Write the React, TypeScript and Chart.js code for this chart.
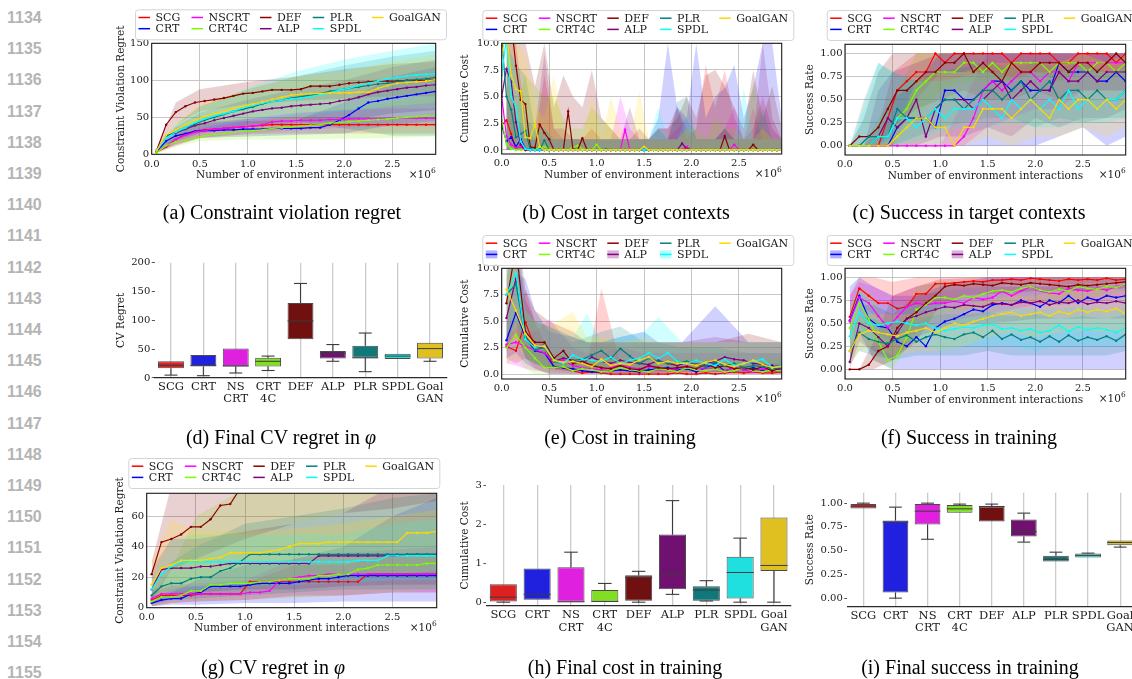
import React, { useEffect, useRef } from "react";
import { Chart, registerables } from "chart.js";

Chart.register(...registerables);

// ---------- shared names, colours, ticks ----------
const METHODS = ["SCG", "CRT", "NSCRT", "CRT4C", "DEF", "ALP", "PLR", "SPDL", "GoalGAN"];
const LINE_COLORS = ["#ff0000", "#0000ff", "#ff00ff", "#7cfc00", "#8b0000", "#800080", "#008080", "#00ffff", "#ffd700"];
const BOX_COLORS = ["#df2020", "#2020df", "#df20df", "#80df20", "#701010", "#701070", "#107878", "#20dfdf", "#dfc020"];
const BOX_LABELS = [["SCG"], ["CRT"], ["NS", "CRT"], ["CRT", "4C"], ["DEF"], ["ALP"], ["PLR"], ["SPDL"], ["Goal", "GAN"]];

// environment interactions (x 10^6)
const STEPS = [0.05, 0.15, 0.25, 0.35, 0.45, 0.55, 0.65, 0.75, 0.85, 0.95, 1.05, 1.15, 1.25, 1.35, 1.45, 1.55, 1.65, 1.75, 1.85, 1.95, 2.05, 2.15, 2.25, 2.35, 2.45, 2.55, 2.65, 2.75, 2.85, 2.95];
const STEPS_FINE = [0, 0.05, 0.1, 0.15, 0.2, 0.25, 0.3, 0.35, 0.4, 0.45, 0.5, 0.55, 0.6, 0.65, 0.7, 0.75, 0.8, 0.85, 0.9, 0.95, 1.0, 1.05, 1.1, 1.15, 1.2, 1.25, 1.3, 1.35, 1.4, 1.45, 1.5, 1.55, 1.6, 1.65, 1.7, 1.75, 1.8, 1.85, 1.9, 1.95, 2.0, 2.05, 2.1, 2.15, 2.2, 2.25, 2.3, 2.35, 2.4, 2.45, 2.5, 2.55, 2.6, 2.65, 2.7, 2.75, 2.8, 2.85, 2.9, 2.95];
const X_TICKS = [0, 0.5, 1.0, 1.5, 2.0, 2.5];
const REGRET_TICKS = [0, 50, 100, 150];
const COST_TICKS = [0, 2.5, 5, 7.5, 10];
const RATE_TICKS = [0, 0.25, 0.5, 0.75, 1];
const PHI_TICKS = [0, 20, 40, 60];
const FINAL_REGRET_TICKS = [0, 50, 100, 150, 200];
const FINAL_COST_TICKS = [0, 1, 2, 3];
const FINAL_RATE_TICKS = [0, 0.25, 0.5, 0.75, 1];
const LINE_NUMBERS = [1134, 1135, 1136, 1137, 1138, 1139, 1140, 1141, 1142, 1143, 1144, 1145, 1146, 1147, 1148, 1149, 1150, 1151, 1152, 1153, 1154, 1155];

// ---------- (a) constraint violation regret, target contexts ----------
const REGRET_MEAN = [
  [3, 10, 20, 27, 31, 33, 34, 35, 36, 37, 38, 39, 40, 40, 40, 40, 40, 40, 40, 40, 40, 40, 40, 40, 40, 40, 40, 40, 40, 40],
  [4, 18, 25, 28, 31, 32, 32, 33, 33, 34, 34, 34, 35, 35, 35, 35, 36, 36, 40, 46, 53, 62, 70, 72, 75, 77, 79, 81, 83, 85],
  [3, 11, 20, 26, 30, 32, 34, 35, 36, 37, 38, 40, 44, 45, 45, 46, 46, 46, 47, 47, 48, 48, 48, 48, 49, 49, 49, 49, 49, 49],
  [2, 12, 17, 19, 22, 25, 27, 28, 30, 31, 32, 33, 35, 36, 37, 38, 39, 40, 42, 43, 44, 45, 46, 47, 48, 49, 50, 51, 52, 52],
  [5, 40, 57, 65, 70, 72, 74, 76, 79, 82, 83, 85, 87, 87, 87, 88, 92, 92, 92, 94, 96, 97, 98, 99, 99, 99, 100, 100, 100, 101],
  [5, 25, 29, 34, 39, 42, 46, 49, 52, 55, 58, 60, 62, 63, 65, 66, 67, 68, 69, 72, 74, 77, 81, 84, 86, 88, 90, 91, 93, 94],
  [5, 24, 30, 35, 41, 46, 50, 54, 58, 61, 64, 68, 71, 73, 76, 78, 80, 82, 85, 87, 89, 91, 93, 95, 96, 98, 100, 101, 102, 104],
  [5, 22, 30, 36, 43, 48, 52, 55, 58, 63, 66, 69, 71, 73, 75, 76, 78, 80, 83, 87, 89, 93, 96, 99, 102, 104, 106, 107, 108, 109],
  [5, 26, 33, 40, 46, 51, 55, 58, 62, 65, 68, 71, 74, 77, 80, 81, 82, 82, 83, 83, 83, 84, 84, 89, 93, 96, 97, 98, 99, 101],
];
const REGRET_BAND_X = [0.05, 0.25, 0.5, 1.0, 1.5, 2.0, 2.5, 2.95];
const REGRET_LOW = [
  [2, 12, 22, 27, 28, 28, 28, 28],
  [2, 14, 22, 24, 26, 28, 40, 45],
  [2, 12, 22, 28, 32, 36, 38, 38],
  [1, 10, 18, 20, 20, 21, 22, 24],
  [3, 40, 58, 68, 72, 75, 78, 78],
  [3, 18, 28, 38, 42, 45, 55, 60],
  [3, 20, 30, 40, 45, 35, 25, 25],
  [3, 22, 34, 45, 52, 58, 65, 70],
  [3, 24, 36, 48, 55, 60, 65, 70],
];
const REGRET_HIGH = [
  [5, 27, 42, 48, 50, 50, 50, 50],
  [6, 36, 42, 45, 46, 70, 105, 118],
  [5, 28, 42, 48, 56, 60, 62, 62],
  [3, 24, 30, 42, 54, 62, 70, 78],
  [7, 70, 88, 98, 105, 115, 122, 125],
  [7, 38, 56, 74, 88, 100, 118, 128],
  [7, 40, 65, 88, 105, 120, 132, 140],
  [7, 40, 62, 90, 112, 128, 140, 150],
  [7, 42, 68, 88, 105, 112, 125, 135],
];

// ---------- (b) cumulative cost, target contexts ----------
const COST_TARGET_MEAN = [
  [2.3, 2.8, 1.5, 0.1, 0.4, 0, 0, 0, 0, 0, 0, 0, 0, 0, 0, 0, 0, 0, 0, 0, 0, 0, 0, 0, 0, 0, 0, 0, 0, 0, 0, 0, 0, 0, 0, 0, 0, 0, 0, 0, 0, 0, 0, 0, 0, 0, 0, 0, 0, 0, 0, 0, 0, 0, 0, 0, 0, 0, 0, 0],
  [2.3, 0.8, 1.2, 0.3, 1.0, 0.1, 0, 0, 0, 0, 0, 0, 0, 0, 0, 0, 0, 0, 0, 0, 0, 0, 0, 0, 0, 0, 0, 0, 0, 0, 0, 0, 0, 0, 0, 0, 0, 0, 0, 0, 0, 0, 0, 0, 0, 0, 0, 0, 0, 0, 0, 0, 0, 0, 0, 0, 0, 0, 0, 0],
  [5.0, 1.3, 0.5, 0.2, 0.3, 0, 0, 0, 0, 0, 0, 0, 0, 0, 0, 0, 0, 0, 0, 0, 0, 0, 0, 0, 0, 0, 1.9, 0, 0, 0, 0, 0, 0, 0, 0, 0, 0, 0, 0, 0.3, 0, 0, 0, 0, 0, 0, 0, 0, 0, 0.5, 0, 0, 0, 0, 0, 0, 0, 0, 0, 0],
  [2.8, 0.6, 0.1, 0, 0, 0, 0, 0, 0.3, 0.3, 0.1, 0, 0, 0, 0, 0.2, 0.4, 0.1, 0, 0, 0.5, 0, 0, 0, 0, 0, 0, 0, 0, 0, 0, 0, 0, 0, 0, 0, 0, 0, 0, 0, 0, 0, 0, 0, 0, 0, 0, 0, 0, 0, 0, 0, 0, 0, 0, 0, 0, 0, 0, 0],
  [10.5, 12, 12, 7.9, 4.7, 4.3, 0.3, 0.2, 2.4, 1.6, 1.0, 0, 0, 0, 3.6, 0.1, 0, 1.1, 0, 0, 0, 0, 0, 0, 0, 0, 0, 0, 0, 0, 0, 0, 0, 0, 0, 0, 0, 0, 0, 0, 0, 0, 0, 0, 0, 0, 0, 1.3, 0, 0, 0, 0, 0, 0.5, 0, 0, 0, 0, 0, 0],
  [5.0, 7.6, 6.4, 2.6, 0.5, 0, 0, 0, 0, 0, 0, 0, 0, 0, 0, 0, 0, 0, 0, 0, 0, 0, 0, 0, 0, 0, 0, 0, 0, 0, 0, 0, 0, 0, 0, 0, 0, 0, 0.6, 0.1, 0, 0, 0, 0, 0, 0, 0, 0, 0, 0, 0, 0, 0, 0, 0, 0, 0, 0, 0, 0],
  [10.5, 5.0, 3.8, 1.2, 1.5, 1.8, 0.1, 0, 0, 0.9, 0, 0, 0, 0, 0, 0, 0, 0, 0, 0, 0, 0, 0.1, 0, 0, 0, 0, 0, 0, 0, 0, 0, 0, 0, 0, 0, 0, 0, 0, 0, 0, 0, 0, 0, 0, 0, 0, 0, 0, 0, 0, 0, 0, 0, 0, 0, 0, 0, 0, 0],
  [7.0, 10.5, 5.0, 4.0, 0.8, 0.1, 0, 0, 0, 0, 0, 0, 0, 0, 0, 0, 0, 0, 0, 0, 0, 0, 0, 0, 0, 0, 0, 0, 0, 0, 0, 0, 0, 0, 0, 0, 0, 0, 0, 0, 0, 0, 0, 0, 0, 0, 0, 0, 0, 0, 0, 0, 0, 0, 0, 0, 0, 0, 0, 0],
  [9.0, 11, 7.0, 5.7, 5.5, 1.2, 1.1, 2.4, 0.3, 0, 0, 0, 0, 0, 0, 0, 0, 0, 0, 0, 0, 0, 0, 0, 0, 0, 0, 0, 0, 0, 0.3, 0, 0, 0, 0, 0, 0, 0, 0, 0, 0, 0, 0, 0, 0, 0, 0, 0, 0, 0, 0, 0, 0, 0, 0, 0, 0, 0, 0, 0],
];
const COST_TARGET_HIGH = [
  [5, 3, 1, 1, 7, 2, 1, 1, 1, 2, 1, 1, 1, 1, 1, 1, 2, 2, 4, 1, 2, 8, 4, 7.5, 3, 1, 2, 5, 2, 1],
  [5, 3, 2, 1, 1, 1, 1, 1, 1, 1, 1, 1, 1, 1, 1, 1, 3, 10, 4, 3, 10, 3, 5, 5.8, 8, 3, 5.8, 10, 10, 3],
  [8, 3, 1, 1, 2, 1, 1, 1, 1, 1, 1, 1, 5, 2, 1, 1, 1, 1, 2, 3, 1, 1, 1, 2, 4, 1, 4, 1, 1, 1],
  [8, 4, 7, 6, 5, 5, 3, 2, 2, 4, 3, 2, 1, 1, 1, 1, 1, 1, 1, 2, 2, 1, 3, 2, 2, 1, 6.5, 2, 1, 1],
  [10, 10, 10, 6, 10, 4, 7, 5, 4, 7.5, 3, 2, 1, 1, 2, 1, 2, 2, 3, 5, 3, 7, 7.5, 6, 4, 2, 7.5, 3, 6, 2],
  [10, 10, 3, 2, 9, 2, 2, 1, 1, 1, 1, 1, 1, 4, 1, 1, 1, 1, 4, 2, 1, 1, 1, 2, 1, 1, 1, 10, 3, 1],
  [10, 8, 7, 2, 2, 1, 1, 1, 1, 1, 1, 1, 1, 1, 1, 1, 2, 1, 4.5, 5, 1, 1, 1, 2, 1, 1, 1, 4, 1, 1],
  [10, 8, 3, 2, 2, 1, 1, 1, 1, 1, 1, 1, 1, 1, 1, 1, 4, 1, 1, 3.2, 1, 1, 1, 1, 1, 5.8, 1, 1, 1, 1],
  [10, 10, 9, 4, 3, 7, 2, 1, 1, 5, 1, 5, 2, 1, 5.5, 1, 1, 1, 1, 2, 1, 1, 1, 1, 1, 1, 1, 2, 1, 1],
];

// ---------- (c) success rate, target contexts ----------
const RATE_TARGET_MEAN = [
  [0, 0, 0, 0, 0.3, 0.6, 0.7, 0.8, 0.8, 1.0, 0.9, 1.0, 1.0, 1.0, 1.0, 1.0, 1.0, 0.9, 1.0, 1.0, 1.0, 1.0, 0.9, 0.9, 1.0, 1.0, 1.0, 1.0, 0.9, 1.0],
  [0, 0, 0, 0, 0, 0.2, 0.3, 0.3, 0.3, 0.2, 0.6, 0.6, 0.5, 0.5, 0.6, 0.7, 0.7, 0.6, 0.7, 0.6, 0.6, 0.6, 0.9, 0.8, 0.8, 0.8, 0.7, 0.7, 0.8, 0.7],
  [0, 0, 0, 0, 0, 0, 0, 0, 0, 0, 0, 0, 0.1, 0.3, 0.6, 0.7, 0.6, 0.7, 0.8, 0.8, 0.7, 0.8, 0.8, 0.7, 0.9, 0.9, 0.9, 0.9, 0.9, 0.9],
  [0, 0, 0, 0.1, 0.1, 0.3, 0.4, 0.6, 0.7, 0.8, 0.8, 0.8, 0.9, 0.9, 0.8, 0.9, 0.8, 0.9, 0.9, 0.9, 0.9, 0.8, 0.9, 0.9, 0.9, 0.8, 0.9, 0.9, 0.8, 0.9],
  [0, 0.1, 0.1, 0.2, 0.4, 0.6, 0.6, 0.7, 0.8, 0.8, 0.9, 0.9, 1.0, 0.8, 0.9, 0.8, 0.7, 0.9, 0.8, 0.8, 0.9, 0.9, 0.9, 0.8, 0.9, 0.9, 0.8, 0.9, 1.0, 0.9],
  [0, 0, 0, 0.1, 0.3, 0.2, 0.3, 0.5, 0.1, 0.4, 0.5, 0.5, 0.5, 0.4, 0.5, 0.6, 0.7, 0.5, 0.6, 0.7, 0.6, 0.6, 0.8, 0.7, 0.7, 0.8, 0.7, 0.8, 0.8, 0.8],
  [0, 0, 0.1, 0.1, 0.1, 0.4, 0.3, 0.3, 0.3, 0.4, 0.5, 0.5, 0.4, 0.5, 0.6, 0.6, 0.5, 0.6, 0.7, 0.5, 0.6, 0.7, 0.5, 0.6, 0.6, 0.5, 0.6, 0.5, 0.5, 0.6],
  [0, 0, 0, 0.1, 0.1, 0.3, 0.3, 0.2, 0.3, 0.4, 0.3, 0.4, 0.4, 0.4, 0.5, 0.4, 0.3, 0.5, 0.4, 0.5, 0.4, 0.5, 0.4, 0.6, 0.4, 0.5, 0.4, 0.5, 0.5, 0.6],
  [0, 0, 0, 0, 0, 0.1, 0.2, 0.3, 0.3, 0.2, 0.2, 0.0, 0.2, 0.2, 0.4, 0.4, 0.4, 0.3, 0.4, 0.5, 0.4, 0.3, 0.5, 0.4, 0.5, 0.5, 0.4, 0.5, 0.4, 0.5],
];
const RATE_TARGET_BAND_X = [0.05, 0.2, 0.35, 0.5, 0.75, 1.0, 1.25, 1.5, 1.75, 2.0, 2.25, 2.5, 2.75, 2.95];
const RATE_TARGET_LOW = [
  [0, 0, 0, 0, 0.5, 0.8, 0.8, 0.8, 0.7, 0.8, 0.7, 0.8, 0.8, 0.8],
  [0, 0, 0, 0, 0, 0, 0, 0, 0, 0, 0.1, 0.2, 0, 0.1],
  [0, 0, 0, 0, 0, 0, 0, 0.2, 0.3, 0.4, 0.4, 0.6, 0.6, 0.6],
  [0, 0, 0, 0, 0.3, 0.6, 0.7, 0.7, 0.7, 0.8, 0.7, 0.8, 0.7, 0.8],
  [0, 0, 0, 0.2, 0.4, 0.5, 0.6, 0.5, 0.5, 0.6, 0.5, 0.6, 0.6, 0.6],
  [0, 0, 0, 0, 0, 0.1, 0.1, 0.2, 0.1, 0.3, 0.2, 0.3, 0.3, 0.4],
  [0, 0, 0, 0, 0.1, 0.2, 0.25, 0.3, 0.3, 0.2, 0.3, 0.25, 0.3, 0.3],
  [0, 0, 0, 0, 0.05, 0.15, 0.2, 0.2, 0.25, 0.2, 0.2, 0.25, 0.25, 0.3],
  [0, 0, 0, 0, 0, 0, 0, 0.1, 0, 0.1, 0.1, 0.2, 0.1, 0.2],
];
const RATE_TARGET_HIGH = [
  [0, 0, 0.2, 0.8, 1, 1, 1, 1, 1, 1, 1, 1, 1, 1],
  [0, 0, 0, 0.5, 0.7, 1, 1, 1, 1, 1, 1, 1, 1, 1],
  [0, 0, 0, 0, 0, 0, 0.5, 1, 1, 1, 1, 1, 1, 1],
  [0, 0, 0.3, 0.5, 1, 1, 1, 1, 1, 1, 1, 1, 1, 1],
  [0, 0.3, 0.8, 1, 1, 1, 1, 1, 1, 1, 1, 1, 1, 1],
  [0, 0, 0.6, 0.8, 0.9, 1, 1, 1, 1, 1, 1, 1, 1, 1],
  [0, 0.5, 0.9, 0.8, 0.7, 0.8, 0.85, 0.9, 0.85, 0.9, 0.85, 0.9, 0.8, 0.85],
  [0, 0.4, 0.9, 0.8, 0.7, 0.7, 0.75, 0.8, 0.75, 0.8, 0.8, 0.85, 0.8, 0.85],
  [0, 0, 0, 0.1, 0.7, 0.8, 0.8, 0.9, 0.9, 0.9, 0.9, 1, 0.9, 1],
];

// ---------- (d) final CV regret in phi (box statistics) ----------
const FINAL_REGRET_LO = [5, 4, 8.7, 13, 67, 29, 11, 33, 29];
const FINAL_REGRET_Q1 = [17, 20, 20, 20, 67, 34, 35, 33, 34];
const FINAL_REGRET_MED = [22, 22, 21, 29, 99, 43, 35, 38, 51];
const FINAL_REGRET_Q3 = [29, 40, 51, 35, 130, 47, 56, 42, 61];
const FINAL_REGRET_HI = [29, 40, 51, 38, 164, 58, 78, 42, 61];

// ---------- (e) cumulative cost in training ----------
const COST_TRAIN_MEAN = [
  [2.6, 2.2, 4.9, 2.5, 2.8, 0.6, 0.6, 0.3, 0.1, 0.2, 0.1, 0.0, 0.0, 0.0, 0.0, 0.0, 0.0, 0.0, 0.1, 0.0, 0.0, 0.1, 0.0, 0.1, 0.2, 0.1, 0.2, 0.1, 0.1, 0.2],
  [3.2, 5.8, 3.5, 2.2, 2.0, 0.7, 0.6, 0.5, 0.3, 0.2, 0.2, 0.3, 0.4, 0.3, 0.2, 0.4, 0.5, 0.6, 0.4, 0.5, 0.2, 0.6, 1.0, 0.3, 0.6, 0.4, 0.6, 0.3, 0.8, 0.3],
  [2.8, 3.0, 2.6, 2.3, 2.0, 1.2, 1.3, 0.8, 0.6, 0.5, 0.4, 0.6, 0.9, 0.6, 0.5, 0.7, 0.6, 0.4, 0.5, 0.8, 0.4, 0.6, 0.5, 0.3, 0.6, 0.4, 0.2, 0.5, 0.3, 0.4],
  [2.5, 3.7, 2.5, 1.5, 0.6, 0.6, 0.7, 0.3, 0.5, 0.4, 0.2, 0.3, 0.6, 0.4, 0.3, 0.2, 0.5, 0.4, 0.2, 0.6, 0.4, 0.3, 0.5, 0.2, 0.3, 0.6, 0.3, 0.2, 0.4, 0.3],
  [6.7, 12, 4.0, 3.0, 3.0, 1.5, 2.2, 1.0, 1.2, 0.8, 0.6, 0.5, 0.8, 0.5, 0.4, 0.8, 0.6, 0.5, 0.6, 0.7, 0.5, 0.9, 0.6, 0.8, 0.5, 0.6, 0.4, 0.7, 0.3, 0.6],
  [5.3, 9.0, 3.5, 2.5, 2.6, 1.2, 1.5, 1.3, 1.0, 1.6, 1.2, 1.0, 1.3, 1.1, 1.0, 0.9, 1.3, 1.0, 0.8, 1.1, 0.9, 1.0, 1.2, 1.6, 1.4, 1.3, 1.0, 0.9, 0.7, 0.8],
  [7.5, 8.5, 3.5, 2.3, 2.5, 1.2, 1.0, 1.3, 1.4, 1.8, 2.2, 1.5, 2.4, 1.7, 1.0, 1.5, 1.2, 1.0, 1.1, 1.2, 0.9, 0.7, 1.1, 0.8, 1.0, 0.6, 0.8, 0.7, 0.5, 0.6],
  [7.5, 9.5, 3.3, 2.5, 2.7, 1.3, 1.0, 1.8, 1.4, 1.3, 1.2, 1.6, 1.0, 1.3, 1.5, 2.0, 1.5, 2.0, 1.2, 1.0, 1.3, 1.0, 0.8, 1.4, 0.8, 1.0, 1.2, 1.4, 0.6, 0.8],
  [8.0, 6.0, 3.8, 2.7, 2.6, 1.3, 1.1, 1.2, 1.0, 0.7, 1.4, 0.8, 1.0, 0.9, 1.3, 1.6, 1.0, 1.2, 1.0, 1.0, 0.8, 1.1, 1.3, 0.9, 0.7, 1.0, 1.3, 0.9, 0.6, 0.7],
];
const COST_TRAIN_BAND_X = [0.05, 0.15, 0.25, 0.35, 0.5, 0.75, 0.9, 1.05, 1.25, 1.5, 1.65, 1.9, 2.25, 2.6, 2.95];
const COST_TRAIN_LOW = [
  [1.5, 1, 1.5, 0.5, 0, 0, 0, 0, 0, 0, 0, 0, 0, 0, 0],
  [1.5, 2, 1, 0.5, 0, 0, 0, 0, 0, 0, 0, 0, 0, 0, 0],
  [1, 0.8, 0.5, 0.3, 0.2, 0, 0, 0, 0, 0, 0, 0, 0, 0, 0],
  [1, 1.5, 0.5, 0, 0, 0, 0, 0, 0, 0, 0, 0, 0, 0, 0],
  [3, 5, 1.5, 1, 0.5, 0.2, 0.2, 0.1, 0.1, 0.1, 0.1, 0.2, 0.2, 0.2, 0.2],
  [2, 4, 1.5, 1, 0.5, 0.5, 0.3, 0.3, 0.3, 0.3, 0.3, 0.3, 0.5, 0.4, 0.3],
  [3, 4, 1.5, 1, 0.5, 0.3, 0.5, 0.5, 0.5, 0.3, 0.3, 0.3, 0.2, 0.2, 0.2],
  [3, 5, 1.5, 1, 0.5, 0.5, 0.5, 0.5, 0.5, 0.5, 0.5, 0.3, 0.3, 0.3, 0.3],
  [4, 3, 1.5, 1, 0.5, 0.5, 0.3, 0.3, 0.3, 0.5, 0.5, 0.3, 0.3, 0.3, 0.3],
];
const COST_TRAIN_HIGH = [
  [4, 4, 8, 5, 2, 1.5, 1, 8.1, 1, 0.8, 0.8, 0.8, 1, 1, 1],
  [5, 9.5, 9, 6, 4, 3.5, 3, 3, 3.5, 4, 3, 3, 6.4, 3, 3],
  [5, 5, 4, 4, 5.2, 2.5, 2, 2, 2.5, 2, 2, 2, 2, 2, 2],
  [4, 5, 4, 2.5, 2, 1.5, 1.5, 1.5, 1.5, 1.2, 1.2, 1.5, 1.3, 1.3, 1.5],
  [10, 15, 8, 6, 5, 4, 3, 3, 3, 3, 3, 3, 3, 3.8, 3],
  [9, 14, 7, 5, 4.5, 3.5, 3, 3, 3, 3, 3, 3, 3.5, 3, 3],
  [12, 13, 6, 5, 4.5, 3, 3.5, 4, 4.5, 3, 3, 2.5, 2.5, 2, 2],
  [12, 14, 6, 5, 4.5, 3.5, 5.7, 3, 3.5, 4, 5.4, 3, 3, 3, 3],
  [12, 10, 6, 5, 4.5, 5.9, 3.5, 3.5, 3, 3.5, 3, 3, 3, 3, 3],
];

// ---------- (f) success rate in training ----------
const RATE_TRAIN_MEAN = [
  [0.57, 0.88, 0.80, 0.72, 0.72, 0.66, 0.68, 0.82, 0.82, 0.93, 0.93, 0.94, 0.95, 0.96, 0.95, 0.97, 0.97, 0.98, 0.97, 0.99, 0.98, 0.97, 0.96, 0.98, 0.97, 0.98, 0.97, 0.99, 0.97, 0.98],
  [0.53, 0.80, 0.55, 0.47, 0.45, 0.30, 0.25, 0.35, 0.25, 0.45, 0.52, 0.55, 0.60, 0.65, 0.63, 0.70, 0.72, 0.70, 0.75, 0.72, 0.68, 0.75, 0.72, 0.80, 0.72, 0.78, 0.75, 0.80, 0.78, 0.80],
  [0.52, 0.78, 0.72, 0.58, 0.45, 0.57, 0.68, 0.72, 0.70, 0.72, 0.72, 0.74, 0.72, 0.78, 0.76, 0.78, 0.85, 0.80, 0.85, 0.90, 0.85, 0.83, 0.82, 0.88, 0.86, 0.85, 0.88, 0.86, 0.90, 0.92],
  [0.45, 0.72, 0.55, 0.30, 0.10, 0.15, 0.35, 0.65, 0.70, 0.78, 0.78, 0.76, 0.80, 0.78, 0.82, 0.85, 0.86, 0.84, 0.88, 0.90, 0.86, 0.84, 0.87, 0.85, 0.90, 0.88, 0.87, 0.90, 0.89, 0.93],
  [0.0, 0.0, 0.05, 0.20, 0.25, 0.45, 0.55, 0.62, 0.72, 0.80, 0.90, 0.92, 0.91, 0.93, 0.92, 0.91, 0.94, 0.93, 0.92, 0.94, 0.93, 0.92, 0.91, 0.90, 0.92, 0.91, 0.92, 0.93, 0.94, 0.95],
  [0.08, 0.50, 0.45, 0.35, 0.25, 0.40, 0.55, 0.58, 0.62, 0.65, 0.68, 0.67, 0.70, 0.69, 0.68, 0.72, 0.71, 0.70, 0.73, 0.72, 0.74, 0.70, 0.73, 0.72, 0.75, 0.71, 0.73, 0.72, 0.74, 0.72],
  [0.20, 0.40, 0.33, 0.30, 0.28, 0.33, 0.37, 0.30, 0.35, 0.38, 0.35, 0.33, 0.38, 0.40, 0.35, 0.42, 0.33, 0.38, 0.32, 0.35, 0.30, 0.36, 0.30, 0.37, 0.31, 0.35, 0.32, 0.36, 0.31, 0.38],
  [0.36, 0.62, 0.50, 0.48, 0.50, 0.52, 0.50, 0.48, 0.50, 0.45, 0.42, 0.44, 0.46, 0.45, 0.48, 0.49, 0.44, 0.45, 0.42, 0.44, 0.40, 0.42, 0.48, 0.41, 0.46, 0.43, 0.45, 0.43, 0.40, 0.45],
  [0.20, 0.38, 0.42, 0.40, 0.38, 0.36, 0.40, 0.42, 0.45, 0.40, 0.45, 0.50, 0.48, 0.52, 0.55, 0.58, 0.60, 0.62, 0.58, 0.60, 0.62, 0.58, 0.63, 0.60, 0.65, 0.62, 0.65, 0.63, 0.66, 0.60],
];
const RATE_TRAIN_BAND_X = [0.05, 0.15, 0.3, 0.5, 0.75, 1.0, 1.25, 1.5, 1.75, 2.0, 2.25, 2.5, 2.75, 2.95];
const RATE_TRAIN_LOW = [
  [0.3, 0.7, 0.6, 0.4, 0.6, 0.85, 0.88, 0.9, 0.92, 0.93, 0.92, 0.93, 0.94, 0.95],
  [0.1, 0.4, 0.1, 0, 0, 0, 0, 0, 0, 0, 0, 0, 0, 0],
  [0.2, 0.6, 0.4, 0.3, 0.4, 0.5, 0.55, 0.6, 0.65, 0.7, 0.7, 0.72, 0.75, 0.78],
  [0.2, 0.5, 0.1, 0, 0.4, 0.6, 0.65, 0.7, 0.72, 0.75, 0.7, 0.75, 0.8, 0.85],
  [0, 0, 0, 0.1, 0.3, 0.7, 0.8, 0.82, 0.83, 0.85, 0.85, 0.85, 0.87, 0.88],
  [0, 0.3, 0.2, 0.1, 0.35, 0.45, 0.5, 0.5, 0.52, 0.55, 0.55, 0.55, 0.55, 0.55],
  [0.05, 0.2, 0.15, 0.1, 0.15, 0.15, 0.15, 0.2, 0.15, 0.15, 0.15, 0.15, 0.15, 0.2],
  [0.1, 0.4, 0.3, 0.3, 0.3, 0.2, 0.25, 0.25, 0.25, 0.2, 0.25, 0.25, 0.25, 0.25],
  [0.05, 0.2, 0.25, 0.15, 0.2, 0.2, 0.25, 0.35, 0.4, 0.35, 0.4, 0.42, 0.4, 0.38],
];
const RATE_TRAIN_HIGH = [
  [0.8, 1.0, 1.0, 0.95, 1.0, 1.0, 1, 1, 1, 1, 1, 1, 1, 1],
  [0.9, 1.0, 0.9, 0.8, 0.8, 0.9, 0.95, 1, 1, 1, 1, 1, 1, 1],
  [0.8, 0.95, 0.9, 0.8, 0.9, 0.95, 0.95, 0.97, 1, 1, 1, 1, 1, 1],
  [0.7, 0.9, 0.8, 0.3, 0.9, 0.95, 0.95, 0.97, 0.98, 1, 1, 1, 1, 1],
  [0, 0, 0.3, 0.8, 0.9, 0.98, 0.99, 1, 1, 1, 1, 1, 1, 1],
  [0.2, 0.7, 0.7, 0.6, 0.8, 0.85, 0.88, 0.9, 0.9, 0.9, 0.9, 0.92, 0.9, 0.9],
  [0.4, 0.6, 0.55, 0.5, 0.55, 0.6, 0.6, 0.62, 0.58, 0.6, 0.55, 0.58, 0.55, 0.6],
  [0.6, 0.85, 0.7, 0.7, 0.7, 0.7, 0.65, 0.7, 0.68, 0.65, 0.66, 0.68, 0.65, 0.68],
  [0.4, 0.6, 0.6, 0.6, 0.6, 0.65, 0.7, 0.75, 0.8, 0.8, 0.85, 0.85, 0.88, 0.85],
];

// ---------- (g) CV regret in phi over training ----------
const PHI_REGRET_MEAN = [
  [5, 8, 8, 8, 8, 9, 9, 9, 9, 9, 17, 17, 17, 17, 17, 17, 17, 17, 17, 17, 17, 17, 22, 22, 22, 22, 22, 22, 22, 22],
  [3, 5, 6, 6, 9, 10, 14, 14, 14, 14, 15, 16, 16, 16, 16, 17, 18, 19, 19, 20, 21, 21, 21, 21, 21, 21, 21, 21, 21, 21],
  [6, 9, 9, 9, 9, 9, 9, 9, 9, 9, 10, 10, 11, 18, 19, 20, 21, 21, 22, 22, 22, 22, 22, 22, 22, 22, 22, 22, 22, 22],
  [4, 7, 7, 8, 11, 11, 15, 15, 16, 16, 16, 17, 17, 18, 19, 19, 19, 21, 21, 22, 22, 25, 26, 28, 28, 28, 28, 28, 29, 29],
  [22, 43, 45, 48, 53, 53, 58, 67, 68, 78, 85, 88, 94, 97, 101, 104, 104, 110, 113, 115, 119, 123, 124, 129, 131, 133, 137, 139, 140, 142],
  [12, 25, 26, 26, 26, 27, 27, 28, 29, 29, 29, 29, 29, 29, 29, 29, 29, 34, 34, 34, 34, 34, 34, 34, 34, 34, 35, 35, 35, 35],
  [8, 14, 16, 16, 19, 20, 20, 24, 26, 30, 35, 35, 35, 35, 35, 35, 35, 35, 35, 35, 35, 35, 35, 35, 35, 35, 35, 35, 35, 35],
  [12, 22, 27, 30, 30, 30, 30, 30, 30, 30, 30, 30, 30, 30, 30, 30, 30, 30, 30, 30, 30, 31, 31, 31, 34, 34, 34, 34, 34, 34],
  [15, 26, 28, 31, 31, 31, 32, 33, 36, 36, 36, 36, 37, 38, 40, 42, 42, 42, 43, 43, 43, 43, 43, 43, 43, 43, 49, 49, 49, 50],
];
const PHI_BAND_X = [0.05, 0.25, 0.5, 1.0, 1.5, 2.0, 2.5, 2.95];
const PHI_REGRET_LOW = [
  [1, 3, 4, 5, 8, 8, 10, 10],
  [1, 2, 2, 3, 3, 4, 4, 4],
  [1, 3, 4, 5, 7, 8, 10, 10],
  [1, 3, 4, 5, 6, 8, 10, 12],
  [3, 25, 32, 45, 55, 62, 65, 70],
  [2, 8, 10, 12, 12, 14, 15, 15],
  [2, 5, 6, 8, 10, 12, 12, 12],
  [3, 10, 12, 14, 15, 16, 18, 18],
  [3, 12, 14, 16, 18, 20, 22, 24],
];
const PHI_REGRET_HIGH = [
  [10, 14, 14, 16, 28, 28, 35, 36],
  [6, 10, 18, 28, 32, 40, 60, 72],
  [12, 15, 16, 18, 32, 36, 38, 40],
  [10, 25, 60, 78, 80, 80, 82, 85],
  [30, 80, 90, 120, 140, 150, 160, 165],
  [25, 45, 45, 50, 55, 62, 80, 90],
  [15, 30, 40, 55, 60, 65, 72, 75],
  [20, 45, 48, 48, 48, 48, 55, 58],
  [30, 58, 50, 50, 52, 55, 60, 64],
];

// ---------- (h) final cost in training (box statistics) ----------
const FINAL_COST_LO = [0, 0.06, 0, 0, 0, 0.2, 0.03, 0, 0];
const FINAL_COST_Q1 = [0.017, 0.06, 0, 0, 0.034, 0.33, 0.034, 0.094, 0.8];
const FINAL_COST_MED = [0.13, 0.2, 0.01, 0.02, 0.63, 0.72, 0.31, 0.76, 0.94];
const FINAL_COST_Q3 = [0.46, 0.86, 0.895, 0.31, 0.69, 1.73, 0.41, 1.16, 2.17];
const FINAL_COST_HI = [0.46, 0.86, 1.28, 0.48, 0.79, 2.6, 0.55, 1.64, 2.17];

// ---------- (i) final success in training (box statistics) ----------
const FINAL_RATE_LO = [0.944, 0, 0.62, 0.9, 0.807, 0.59, 0.386, 0.428, 0.537];
const FINAL_RATE_Q1 = [0.944, 0.06, 0.775, 0.9, 0.807, 0.649, 0.386, 0.428, 0.558];
const FINAL_RATE_MED = [0.968, 0.8, 0.916, 0.94, 0.965, 0.7, 0.41, 0.45, 0.586];
const FINAL_RATE_Q3 = [0.99, 0.818, 0.99, 0.98, 0.965, 0.828, 0.446, 0.47, 0.607];
const FINAL_RATE_HI = [1.0, 0.958, 1.0, 0.99, 0.99, 0.895, 0.484, 0.474, 0.607];

// ---------- drawing helpers ----------
const SERIF = "'DejaVu Serif', serif";
const CANVAS_W = 1160;
const CANVAS_H = 679;
const AXIS_W = 40;
const AXIS_H = 40;
const LEGEND_TEXT_X = [20.5, 73.5, 142, 194.7, 254];
const INK = "#1a1a1a";
const BAND_ALPHA = 0.18;

function rgba(hex: string, a: number) {
  const n = parseInt(hex.slice(1), 16);
  return `rgba(${(n >> 16) & 255},${(n >> 8) & 255},${n & 255},${a})`;
}

function paddingFor(area: number[]) {
  const [l, t, r, b] = area;
  return { left: l - AXIS_W, top: t, right: CANVAS_W - r, bottom: CANVAS_H - b - AXIS_H };
}

function drawLegend(ctx: CanvasRenderingContext2D, x: number, y: number, patched: number[]) {
  ctx.save();
  ctx.beginPath();
  (ctx as any).roundRect(x + 0.5, y + 0.5, 311, 30, 3);
  ctx.fillStyle = "rgba(255,255,255,0.85)";
  ctx.fill();
  ctx.strokeStyle = "#d4d4d4";
  ctx.lineWidth = 1;
  ctx.stroke();
  ctx.font = `11px ${SERIF}`;
  ctx.textBaseline = "middle";
  ctx.textAlign = "left";
  METHODS.forEach((m, i) => {
    const col = Math.floor(i / 2);
    const row = i % 2;
    const tx = x + LEGEND_TEXT_X[col];
    const ty = y + (row ? 19.4 : 8.2);
    const hx = tx - 17;
    if (patched.includes(i)) {
      ctx.fillStyle = rgba(LINE_COLORS[i], 0.3);
      ctx.fillRect(hx, ty - 4, 11.5, 8);
    }
    ctx.strokeStyle = LINE_COLORS[i];
    ctx.lineWidth = 1.5;
    ctx.beginPath();
    ctx.moveTo(hx, ty);
    ctx.lineTo(hx + 11.5, ty);
    ctx.stroke();
    ctx.fillStyle = INK;
    ctx.fillText(m, tx, ty + 0.5);
  });
  ctx.restore();
}

function drawYTitle(ctx: CanvasRenderingContext2D, a: any, text: string, gap: number, size: number) {
  ctx.save();
  ctx.translate(a.left - gap, (a.top + a.bottom) / 2);
  ctx.rotate(-Math.PI / 2);
  ctx.font = `${size}px ${SERIF}`;
  ctx.fillStyle = INK;
  ctx.textAlign = "center";
  ctx.textBaseline = "middle";
  ctx.fillText(text, 0, 0);
  ctx.restore();
}

function drawXTitle(ctx: CanvasRenderingContext2D, a: any) {
  ctx.save();
  ctx.font = `10.5px ${SERIF}`;
  ctx.fillStyle = INK;
  ctx.textAlign = "center";
  ctx.textBaseline = "middle";
  ctx.fillText("Number of environment interactions", (a.left + a.right) / 2, a.bottom + 21);
  // offset label ×10^6 at the right end of the axis
  ctx.font = `7.5px ${SERIF}`;
  const w6 = ctx.measureText("6").width;
  ctx.textAlign = "right";
  ctx.fillText("6", a.right, a.bottom + 16.5);
  ctx.font = `10.5px ${SERIF}`;
  ctx.fillText("\u00d710", a.right - w6, a.bottom + 20.5);
  ctx.restore();
}

function lineChart(canvas: HTMLCanvasElement, p: any) {
  const datasets: any[] = [];
  p.means.forEach((ys: number[], i: number) => {
    datasets.push({
      data: p.x.map((x: number, k: number) => ({ x, y: ys[k] })),
      borderColor: LINE_COLORS[i],
      backgroundColor: LINE_COLORS[i],
      borderWidth: 1.2,
      pointRadius: 1.2,
      pointBorderWidth: 0,
      pointBackgroundColor: LINE_COLORS[i],
      fill: false,
      order: 8 - i,
    });
  });
  p.highs.forEach((hi: number[], i: number) => {
    const base = { borderWidth: 0, borderColor: "rgba(0,0,0,0)", pointRadius: 0, order: 108 - i };
    if (p.lows) {
      datasets.push({ ...base, data: p.bandX.map((x: number, k: number) => ({ x, y: p.lows[i][k] })), fill: false });
      datasets.push({ ...base, data: p.bandX.map((x: number, k: number) => ({ x, y: hi[k] })), fill: "-1", backgroundColor: rgba(LINE_COLORS[i], BAND_ALPHA) });
    } else {
      datasets.push({ ...base, data: p.bandX.map((x: number, k: number) => ({ x, y: hi[k] })), fill: "origin", backgroundColor: rgba(LINE_COLORS[i], BAND_ALPHA) });
    }
  });

  const decor = {
    id: "panelDecor",
    afterDraw(chart: any) {
      const ctx = chart.ctx;
      const a = chart.chartArea;
      ctx.save();
      ctx.strokeStyle = INK;
      ctx.lineWidth = 1.1;
      ctx.strokeRect(a.left, a.top, a.right - a.left, a.bottom - a.top);
      ctx.restore();
      drawYTitle(ctx, a, p.yTitle, p.yTitleGap, 10.5);
      drawXTitle(ctx, a);
      drawLegend(ctx, p.legend[0], p.legend[1], p.patched);
    },
  };

  const tickFont = { family: SERIF, size: 10 };
  const grid = { color: "#c0c0c0", lineWidth: 0.9, drawTicks: false };
  return new Chart(canvas, {
    type: "line",
    data: { datasets },
    plugins: [decor],
    options: {
      animation: false,
      responsive: false,
      devicePixelRatio: 1,
      events: [],
      layout: { padding: paddingFor(p.area) },
      plugins: { legend: { display: false }, tooltip: { enabled: false } },
      scales: {
        x: {
          type: "linear",
          min: 0,
          max: 2.95,
          afterBuildTicks: (s: any) => { s.ticks = X_TICKS.map((v) => ({ value: v })); },
          afterFit: (s: any) => { s.height = AXIS_H; },
          grid,
          border: { display: false },
          ticks: { padding: 3.7, color: INK, font: tickFont, maxRotation: 0, autoSkip: false, callback: (v: any) => Number(v).toFixed(1) },
        },
        y: {
          type: "linear",
          min: p.yMin,
          max: p.yMax,
          afterBuildTicks: (s: any) => { s.ticks = p.yTicks.map((v: number) => ({ value: v })); },
          afterFit: (s: any) => { s.width = AXIS_W; },
          grid,
          border: { display: false },
          ticks: { padding: 2.5, color: INK, font: tickFont, autoSkip: false, callback: (v: any) => Number(v).toFixed(p.yDigits) },
        },
      },
    } as any,
  });
}

function boxChart(canvas: HTMLCanvasElement, p: any) {
  const whiskers = {
    id: "boxWhiskers",
    afterDraw(chart: any) {
      const ctx = chart.ctx;
      const xs = chart.scales.x;
      const ys = chart.scales.y;
      const bars = chart.getDatasetMeta(0).data;
      const py = (v: number) => ys.getPixelForValue(v);
      const seg = (x1: number, y1: number, x2: number, y2: number) => {
        ctx.beginPath();
        ctx.moveTo(x1, y1);
        ctx.lineTo(x2, y2);
        ctx.stroke();
      };
      ctx.save();
      ctx.strokeStyle = "#3c3c3c";
      ctx.lineWidth = 1.1;
      p.q1.forEach((_: number, i: number) => {
        const x = xs.getPixelForValue(i);
        const half = bars[i].width / 2;
        if (p.hi[i] > p.q3[i]) {
          seg(x, py(p.q3[i]), x, py(p.hi[i]));
          seg(x - half / 2, py(p.hi[i]), x + half / 2, py(p.hi[i]));
        }
        if (p.lo[i] < p.q1[i]) {
          seg(x, py(p.q1[i]), x, py(p.lo[i]));
          seg(x - half / 2, py(p.lo[i]), x + half / 2, py(p.lo[i]));
        }
        ctx.save();
        ctx.lineWidth = 1;
        seg(x - half, py(p.med[i]), x + half, py(p.med[i]));
        ctx.restore();
      });
      ctx.restore();
      drawYTitle(ctx, chart.chartArea, p.yTitle, p.yTitleGap, 10.5);
    },
  };

  return new Chart(canvas, {
    type: "bar",
    data: {
      labels: BOX_LABELS,
      datasets: [{
        data: p.q1.map((v: number, i: number) => [v, p.q3[i]]),
        backgroundColor: BOX_COLORS,
        borderColor: "#4a4a4a",
        borderWidth: 1,
        borderSkipped: false,
        barPercentage: 0.8,
        categoryPercentage: 1,
      }],
    },
    plugins: [whiskers],
    options: {
      animation: false,
      responsive: false,
      devicePixelRatio: 1,
      events: [],
      layout: { padding: paddingFor(p.area) },
      plugins: { legend: { display: false }, tooltip: { enabled: false } },
      scales: {
        x: {
          offset: true,
          z: 1,
          afterFit: (s: any) => { s.height = AXIS_H; },
          grid: { offset: false, color: "rgba(200,200,200,0.95)", lineWidth: 1.3, drawTicks: false },
          border: { display: true, color: "#2a2a2a", width: 1.2 },
          ticks: { padding: p.labelPad, color: INK, font: { family: SERIF, size: 11.5, lineHeight: 1.1 }, autoSkip: false, maxRotation: 0, minRotation: 0 },
        },
        y: {
          min: p.yMin,
          max: p.yMax,
          afterBuildTicks: (s: any) => { s.ticks = p.yTicks.map((v: number) => ({ value: v })); },
          afterFit: (s: any) => { s.width = AXIS_W; },
          grid: { drawOnChartArea: false, drawTicks: true, tickLength: 3, color: "#555", lineWidth: 1 },
          border: { display: false },
          ticks: { padding: 1.5, color: INK, font: { family: SERIF, size: 10 }, autoSkip: false, callback: (v: any) => Number(v).toFixed(p.yDigits) },
        },
      },
    } as any,
  });
}

// ---------- panel layouts ----------
const PANELS: { kind: string; spec: any }[] = [
  { kind: "line", spec: { area: [151.7, 43.3, 435.7, 154.3], yMin: 0, yMax: 150, yTicks: REGRET_TICKS, yDigits: 0, yTitle: "Constraint Violation Regret", yTitleGap: 30, x: STEPS, means: REGRET_MEAN, bandX: REGRET_BAND_X, lows: REGRET_LOW, highs: REGRET_HIGH, legend: [135, 9.3], patched: [] } },
  { kind: "line", spec: { area: [501.7, 43.3, 781.7, 154], yMin: -0.38, yMax: 10, yTicks: COST_TICKS, yDigits: 1, yTitle: "Cumulative Cost", yTitleGap: 36.5, x: STEPS_FINE, means: COST_TARGET_MEAN, bandX: STEPS, lows: null, highs: COST_TARGET_HIGH, legend: [482.3, 10], patched: [] } },
  { kind: "line", spec: { area: [845, 44.3, 1125.7, 155], yMin: -0.1, yMax: 1.1, yTicks: RATE_TICKS, yDigits: 2, yTitle: "Success Rate", yTitleGap: 35, x: STEPS, means: RATE_TARGET_MEAN, bandX: RATE_TARGET_BAND_X, lows: RATE_TARGET_LOW, highs: RATE_TARGET_HIGH, legend: [826.7, 10], patched: [] } },
  { kind: "box", spec: { area: [154.8, 262.7, 446.2, 378], yMin: 0, yMax: 200, yTicks: FINAL_REGRET_TICKS, yDigits: 0, yTitle: "CV Regret", yTitleGap: 34, labelPad: 2.2, lo: FINAL_REGRET_LO, q1: FINAL_REGRET_Q1, med: FINAL_REGRET_MED, q3: FINAL_REGRET_Q3, hi: FINAL_REGRET_HI } },
  { kind: "line", spec: { area: [501.7, 268.3, 781.7, 379], yMin: -0.47, yMax: 10, yTicks: COST_TICKS, yDigits: 1, yTitle: "Cumulative Cost", yTitleGap: 36.5, x: STEPS, means: COST_TRAIN_MEAN, bandX: COST_TRAIN_BAND_X, lows: COST_TRAIN_LOW, highs: COST_TRAIN_HIGH, legend: [482.3, 235], patched: [1, 5, 7] } },
  { kind: "line", spec: { area: [845, 268.3, 1125.7, 379], yMin: -0.105, yMax: 1.098, yTicks: RATE_TICKS, yDigits: 2, yTitle: "Success Rate", yTitleGap: 35, x: STEPS, means: RATE_TRAIN_MEAN, bandX: RATE_TRAIN_BAND_X, lows: RATE_TRAIN_LOW, highs: RATE_TRAIN_HIGH, legend: [826.7, 235], patched: [1, 5] } },
  { kind: "line", spec: { area: [146.7, 493.3, 436.7, 607.7], yMin: 0, yMax: 75, yTicks: PHI_TICKS, yDigits: 0, yTitle: "Constraint Violation Regret", yTitleGap: 26, x: STEPS, means: PHI_REGRET_MEAN, bandX: PHI_BAND_X, lows: PHI_REGRET_LOW, highs: PHI_REGRET_HIGH, legend: [128.3, 458], patched: [] } },
  { kind: "box", spec: { area: [486.4, 485, 790.9, 605.7], yMin: -0.09, yMax: 3, yTicks: FINAL_COST_TICKS, yDigits: 0, yTitle: "Cumulative Cost", yTitleGap: 21.4, labelPad: 3.3, lo: FINAL_COST_LO, q1: FINAL_COST_Q1, med: FINAL_COST_MED, q3: FINAL_COST_Q3, hi: FINAL_COST_HI } },
  { kind: "box", spec: { area: [847.3, 492.7, 1136.2, 606.7], yMin: -0.09, yMax: 1.11, yTicks: FINAL_RATE_TICKS, yDigits: 2, yTitle: "Success Rate", yTitleGap: 37, labelPad: 2.6, lo: FINAL_RATE_LO, q1: FINAL_RATE_Q1, med: FINAL_RATE_MED, q3: FINAL_RATE_Q3, hi: FINAL_RATE_HI } },
];

const PHI = <i style={{ fontFamily: "'Liberation Serif', serif" }}>φ</i>;
const CAPTIONS: { node: React.ReactNode; x: number; y: number }[] = [
  { node: "(a) Constraint violation regret", x: 282, y: 212 },
  { node: "(b) Cost in target contexts", x: 626, y: 212 },
  { node: "(c) Success in target contexts", x: 969, y: 212 },
  { node: <>(d) Final CV regret in {PHI}</>, x: 281, y: 437 },
  { node: "(e) Cost in training", x: 620, y: 437 },
  { node: "(f) Success in training", x: 969, y: 437 },
  { node: <>(g) CV regret in {PHI}</>, x: 273, y: 667 },
  { node: "(h) Final cost in training", x: 625, y: 667 },
  { node: "(i) Final success in training", x: 970, y: 667 },
];

function Panel({ kind, spec }: { kind: string; spec: any }) {
  const ref = useRef<HTMLCanvasElement>(null);
  useEffect(() => {
    const chart = kind === "line" ? lineChart(ref.current!, spec) : boxChart(ref.current!, spec);
    return () => chart.destroy();
  }, [kind, spec]);
  return (
    <canvas
      ref={ref}
      width={CANVAS_W}
      height={CANVAS_H}
      style={{ position: "absolute", left: 0, top: 0, width: CANVAS_W, height: CANVAS_H }}
    />
  );
}

export default function App() {
  return (
    <div style={{ position: "absolute", left: 0, top: 0, width: 1132, height: 679, overflow: "hidden", background: "#ffffff" }}>
      {LINE_NUMBERS.map((n, k) => (
        <div
          key={n}
          style={{
            position: "absolute",
            left: 7,
            top: 18 + k * 31.2,
            transform: "translateY(-50%)",
            font: "bold 16px 'Liberation Sans', Arial, sans-serif",
            color: "#b4b4b4",
            lineHeight: "16px",
          }}
        >
          {n}
        </div>
      ))}
      {PANELS.map((p, i) => (
        <Panel key={i} kind={p.kind} spec={p.spec} />
      ))}
      {CAPTIONS.map((c, i) => (
        <div
          key={i}
          style={{
            position: "absolute",
            left: c.x,
            top: c.y,
            transform: "translate(-50%, -50%)",
            whiteSpace: "nowrap",
            font: "20px 'Liberation Serif', 'Times New Roman', serif",
            color: "#000",
            lineHeight: "22px",
          }}
        >
          {c.node}
        </div>
      ))}
    </div>
  );
}
